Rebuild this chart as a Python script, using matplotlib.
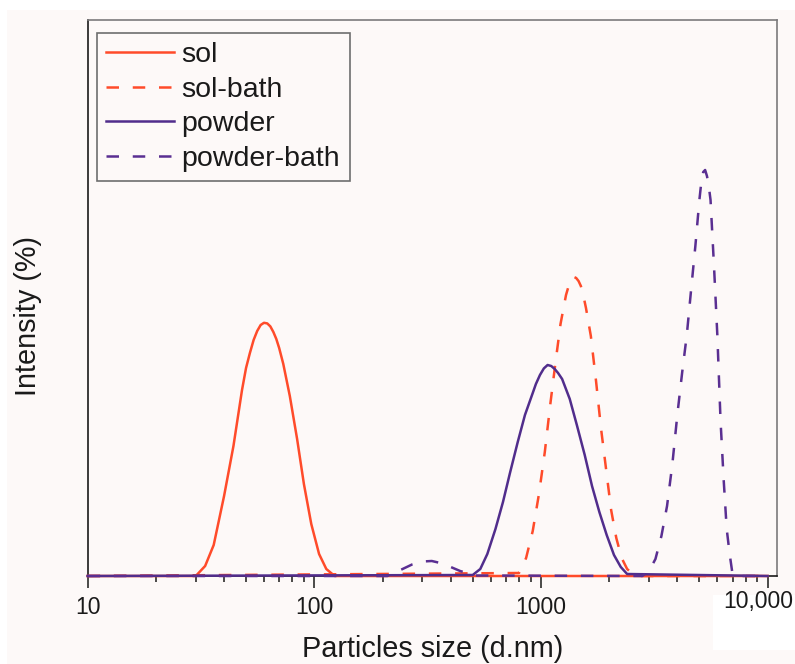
import matplotlib
matplotlib.use("Agg")
import matplotlib.pyplot as plt
from matplotlib.patches import Rectangle

plt.rcParams['font.family'] = ['Liberation Sans', 'DejaVu Sans']

# particle size (nm) and intensity (%)
sol_x = [10, 30, 33, 36, 40, 44, 48, 50, 52, 54, 56, 58, 60, 62, 64, 66, 68, 70, 73, 78,
         84, 90, 97, 105, 113, 123, 10000]
sol_y = [0, 0, 0.5, 1.55, 4.0, 6.5, 9.3, 10.4, 11.15, 11.8, 12.25, 12.55, 12.66, 12.63, 12.48,
         12.2, 11.85, 11.4, 10.6, 9.0, 6.85, 4.6, 2.6, 1.1, 0.35, 0, 0]

solbath_x = [10, 800, 860, 920, 980, 1040, 1100, 1160, 1220, 1290, 1325, 1360, 1400, 1430, 1465,
             1500, 1540, 1580, 1660, 1750, 1840, 1940, 2040, 2150, 2270, 2400, 2540, 2650, 10000]
solbath_y = [0, 0.15, 0.9, 2.25, 4.1, 6.2, 8.6, 10.7, 12.6, 14.05, 14.5, 14.85, 14.95, 14.9, 14.75,
             14.5, 14.0, 13.4, 12.0, 9.75, 7.4, 5.3, 3.3, 1.9, 0.9, 0.35, 0.1, 0, 0]

powder_x = [10, 500, 540, 580, 630, 680, 730, 790, 850, 920, 950, 990, 1030, 1070, 1110, 1150,
            1190, 1240, 1340, 1440, 1560, 1680, 1810, 1950, 2100, 2250, 2400, 10000]
powder_y = [0, 0.05, 0.35, 1.1, 2.35, 3.7, 5.15, 6.7, 8.05, 9.15, 9.6, 10.05, 10.38, 10.55, 10.5,
            10.35, 10.15, 9.85, 8.85, 7.55, 6.05, 4.5, 3.2, 2.05, 1.05, 0.45, 0.1, 0]

powderbath_x = [10, 210, 240, 270, 300, 330, 360, 400, 440, 480, 510,
                2800, 3000, 3200, 3400, 3600, 3800, 4000, 4200, 4400, 4600, 4800, 5000, 5100,
                5200, 5300, 5400, 5500, 5600, 5800, 6000, 6200, 6400, 6600, 6800, 7000, 7200, 10000]
powderbath_y = [0, 0, 0.3, 0.575, 0.725, 0.75, 0.65, 0.45, 0.25, 0.125, 0.025,
                0, 0.25, 0.85, 2.0, 3.5, 5.6, 8.1, 10.2, 12.05, 14.35, 16.5, 18.8, 19.7,
                20.2, 20.3, 20.0, 19.5, 18.8, 15.5, 12.05, 7.75, 4.8, 2.35, 1.1, 0.1, 0, 0]

tick_vals = [10, 100, 1000, 10000]
tick_text = ['10', '100', '1000', '']

orange = '#ff4b2a'
purple = '#512d8c'
purple2 = '#5a2f92'
bg = '#fdf9f8'
ink = '#1a1a1a'

fig = plt.figure(figsize=(7.95, 6.64), dpi=100, facecolor=bg)
fig.patches.append(Rectangle((0, 1 - 10 / 664), 1, 10 / 664, transform=fig.transFigure,
                             facecolor='white', edgecolor='none', zorder=0))
fig.patches.append(Rectangle((0, 0), 7 / 795, 1, transform=fig.transFigure,
                             facecolor='white', edgecolor='none', zorder=0))
fig.patches.append(Rectangle((712.7 / 795, 14 / 664), 82.3 / 795, 55 / 664, transform=fig.transFigure,
                             facecolor='white', edgecolor='none', zorder=0))

ax = fig.add_axes([87.6 / 795, 88 / 664, 689.4 / 795, 556 / 664])
ax.set_facecolor('none')

lw = 1.8
dash = (0, (5, 5.5))
common = dict(lw=lw, clip_on=False, zorder=3, solid_joinstyle='round', dash_joinstyle='round')
ax.plot(sol_x, sol_y, color=orange, label='sol', **common)
ax.plot(solbath_x, solbath_y, color=orange, ls=dash, label='sol-bath', **common)
ax.plot(powder_x, powder_y, color=purple, label='powder', **common)
ax.plot(powderbath_x, powderbath_y, color=purple2, ls=dash, label='powder-bath', **common)

ax.set_xscale('log')
ax.set_xlim(10, 11000)
ax.set_ylim(0, 27.8)
ax.set_yticks([])
ax.set_xticks(tick_vals)
ax.set_xticklabels(tick_text)
ax.tick_params(axis='x', which='major', length=8.5, width=1.1, pad=6, labelsize=16.5,
               colors=ink, direction='out')
ax.tick_params(axis='x', which='minor', length=4.5, width=1.1, direction='out', colors=ink)

for side in ['left', 'bottom']:
    ax.spines[side].set_color(ink)
    ax.spines[side].set_linewidth(1.2)
for side in ['top', 'right']:
    ax.spines[side].set_color('#7c7a7c')
    ax.spines[side].set_linewidth(1.2)

fig.text(758.7 / 795, (664 - 608.3) / 664, '10,000', fontsize=16.5, color=ink,
         ha='center', va='baseline')

ax.set_xlabel('Particles size (d.nm)', fontsize=20.8, color=ink)
ax.xaxis.set_label_coords(0.5, -0.107)
ax.set_ylabel('Intensity (%)', fontsize=20.8, color=ink)
ax.yaxis.set_label_coords(-0.0661, 0.4676)

leg = ax.legend(loc='upper left', bbox_to_anchor=(96.7 / 795, 1 - 32.7 / 664),
                bbox_transform=fig.transFigure, borderaxespad=0, fontsize=20.5,
                handlelength=2.4, handletextpad=0.25, borderpad=0.33, labelspacing=0.3,
                fancybox=False, framealpha=1, facecolor=bg, edgecolor='#6e6e6e')
leg.get_frame().set_linewidth(1.2)
for t in leg.get_texts():
    t.set_color(ink)

fig.savefig('out.png', dpi=100, facecolor=bg)
